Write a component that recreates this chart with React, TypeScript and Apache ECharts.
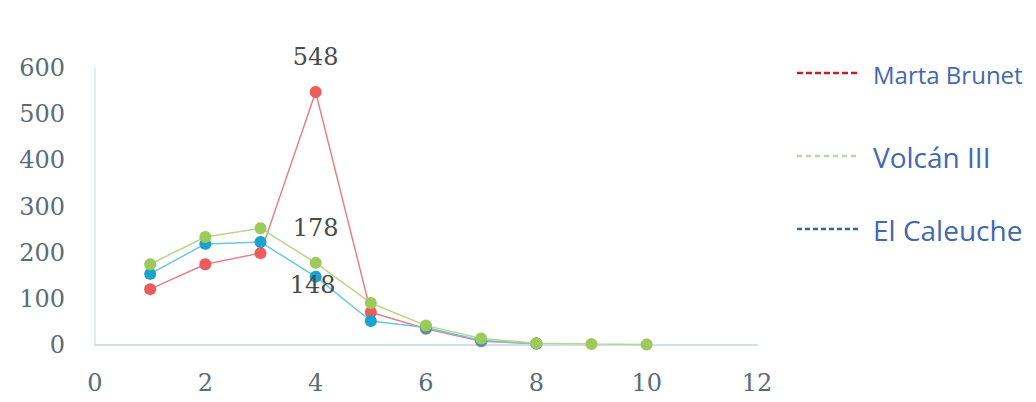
import React, { useEffect, useRef } from "react";
import * as echarts from "echarts";

const xs = [1, 2, 3, 4, 5, 6, 7, 8, 9, 10];
const martaBrunet = [121, 175, 199, 548, 71, 35, 8, 3];
const volcanIII = [175, 234, 253, 178, 91, 42, 14, 4, 2, 1];
const elCaleuche = [154, 219, 223, 148, 52, 38, 10, 3];
const seriesNames = ["Marta Brunet", "Volcán III", "El Caleuche"];
const xTicks = { min: 0, max: 12, interval: 2 };
const yTicks = { min: 0, max: 600, interval: 100 };

const labelFont = "'DejaVu Serif', 'Liberation Serif', serif";

function pairs(vals: number[], labelIdx: number, label: any) {
  return vals.map((v, i) => {
    const item: any = { value: [xs[i], v] };
    if (i === labelIdx) item.label = label;
    return item;
  });
}

export default function App() {
  const ref = useRef<HTMLDivElement>(null);
  useEffect(() => {
    if (!ref.current) return;
    const chart = echarts.init(ref.current, undefined, { renderer: "svg" });
    const baseLabel = {
      show: true,
      fontFamily: labelFont,
      fontSize: 24,
      color: "#4a4a4a",
      formatter: (p: any) => String(p.value[1]),
    };
    const legendRows = [
      { name: seriesNames[0], y: 73, color: "#c0202a", dash: [6, 3], fontSize: 24 },
      { name: seriesNames[1], y: 156, color: "#bcd8a0", dash: [5, 4], fontSize: 28 },
      { name: seriesNames[2], y: 229, color: "#2a6f9a", dash: [5, 3], fontSize: 28 },
    ];
    const graphics: any[] = [];
    legendRows.forEach((r) => {
      graphics.push({
        type: "line",
        shape: { x1: 797, y1: r.y, x2: 860, y2: r.y },
        style: { stroke: r.color, lineWidth: 2.5, lineDash: r.dash },
      });
      graphics.push({
        type: "text",
        x: 873,
        y: r.y + 1,
        style: {
          text: r.name,
          fontFamily: "'Open Sans', Lato, sans-serif",
          fontSize: r.fontSize,
          fill: "#4268b0",
          verticalAlign: "middle",
        },
      });
    });
    chart.setOption({
      animation: false,
      backgroundColor: "#ffffff",
      grid: { left: 95, top: 68, width: 662, height: 277 },
      xAxis: {
        type: "value",
        ...xTicks,
        axisLine: { show: true, lineStyle: { color: "#cfe2ec", width: 2 } },
        axisTick: { show: false },
        splitLine: { show: false },
        axisLabel: {
          fontFamily: labelFont,
          fontSize: 24,
          color: "#5b6b78",
          margin: 26,
        },
      },
      yAxis: {
        type: "value",
        ...yTicks,
        axisLine: { show: true, lineStyle: { color: "#e4edf2", width: 2 } },
        axisTick: { show: false },
        splitLine: { show: false },
        axisLabel: {
          fontFamily: labelFont,
          fontSize: 24,
          color: "#5b6b78",
          margin: 30,
        },
      },
      graphic: graphics,
      series: [
        {
          name: seriesNames[0],
          type: "line",
          data: pairs(martaBrunet, 3, { ...baseLabel, position: "top", distance: 17 }),
          symbol: "circle",
          symbolSize: 12,
          lineStyle: { color: "#e8808a", width: 1.5 },
          itemStyle: { color: "#ee5b5b" },
        },
        {
          name: seriesNames[2],
          type: "line",
          data: pairs(elCaleuche, 3, { ...baseLabel, position: "inside", offset: [-3, 8] }),
          symbol: "circle",
          symbolSize: 12,
          lineStyle: { color: "#6cc6e2", width: 1.5 },
          itemStyle: { color: "#1aa3cc" },
          z: 3,
        },
        {
          name: seriesNames[1],
          type: "line",
          data: pairs(volcanIII, 3, { ...baseLabel, position: "top", distance: 17 }),
          symbol: "circle",
          symbolSize: 12,
          lineStyle: { color: "#b3d88a", width: 1.5 },
          itemStyle: { color: "#9ccb5c" },
          z: 4,
        },
      ],
    });
    return () => chart.dispose();
  }, []);
  return (
    <div
      ref={ref}
      style={{ position: "fixed", left: 0, top: 0, width: 1036, height: 402, background: "#fff" }}
    />
  );
}
